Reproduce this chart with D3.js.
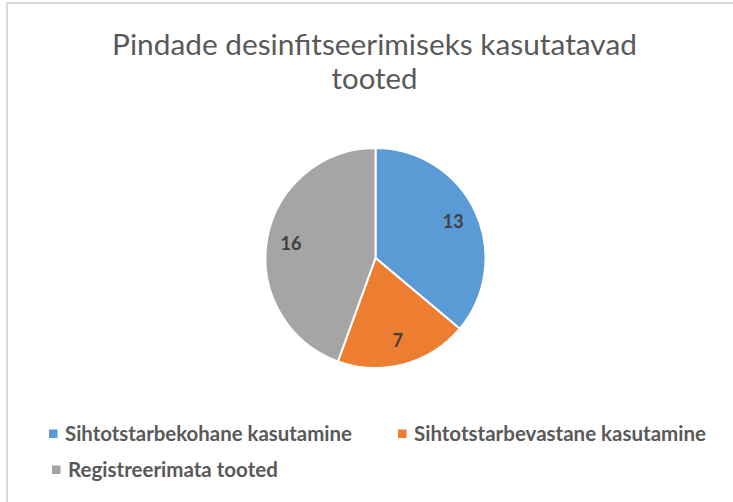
<!DOCTYPE html>
<html>
<head>
<meta charset="utf-8">
<script src="https://cdn.jsdelivr.net/npm/d3@7"></script>
<style>
  html, body { margin: 0; padding: 0; background: #fff; }
  svg { display: block; }
  text { font-family: Lato, "Open Sans", sans-serif; }
</style>
</head>
<body>
<svg id="chart" width="733" height="502"></svg>
<script>
// Data
const categories = ['Sihtotstarbekohane kasutamine', 'Sihtotstarbevastane kasutamine', 'Registreerimata tooted'];
const values = [13, 7, 16];
const colors = ['#5b9bd5', '#ed7d31', '#a5a5a5'];
const titleLines = ['Pindade desinfitseerimiseks kasutatavad', 'tooted'];

const W = 733, H = 502;
const CX = 375.5, CY = 258, R = 110;

const svg = d3.select('#chart');

// chart frame (only top and left edges are visible in the crop)
svg.append('rect')
    .attr('x', 7).attr('y', 3)
    .attr('width', W + 20).attr('height', H + 20)
    .attr('fill', '#fff')
    .attr('stroke', '#d9d9d9')
    .attr('stroke-width', 2);

// fit a text element to a target width
function fitWidth(sel, target, size) {
    sel.attr('font-size', size);
    const w = sel.node().getComputedTextLength();
    sel.attr('font-size', size * target / w);
}

// title
const titleY = [55, 89];
titleLines.forEach((t, i) => {
    const el = svg.append('text')
        .attr('x', 374.5)
        .attr('y', titleY[i])
        .attr('text-anchor', 'middle')
        .attr('fill', '#595959')
        .text(t);
    fitWidth(el, i === 0 ? 525 : 86, 26);
});

// pie
const pie = d3.pie().sort(null).value(d => d.value);
const arcs = pie(values.map((v, i) => ({ value: v, name: categories[i], color: colors[i] })));
const arc = d3.arc().innerRadius(0).outerRadius(R);
const labelArc = d3.arc().innerRadius(R * 0.78).outerRadius(R * 0.78);

const g = svg.append('g').attr('transform', `translate(${CX},${CY})`);

g.selectAll('path.slice')
    .data(arcs)
    .join('path')
    .attr('class', 'slice')
    .attr('d', arc)
    .attr('fill', d => d.data.color)
    .attr('stroke', '#fff')
    .attr('stroke-width', 2);

g.selectAll('text.lbl')
    .data(arcs)
    .join('text')
    .attr('class', 'lbl')
    .attr('transform', d => `translate(${labelArc.centroid(d)})`)
    .attr('dy', '0.36em')
    .attr('text-anchor', 'middle')
    .attr('font-size', 18)
    .attr('font-weight', 'bold')
    .attr('fill', '#404040')
    .text(d => d.data.value);

// legend
const legendPos = [
    { x: 49, y: 434, w: 287 },
    { x: 398, y: 434, w: 292 },
    { x: 52, y: 470, w: 210 }
];
const legend = svg.append('g');
arcs.forEach((d, i) => {
    const p = legendPos[i];
    legend.append('rect')
        .attr('x', p.x).attr('y', p.y - 4.5)
        .attr('width', 8.5).attr('height', 8.5)
        .attr('fill', d.data.color);
    const t = legend.append('text')
        .attr('x', p.x + 16)
        .attr('y', p.y)
        .attr('dy', '0.35em')
        .attr('font-weight', 'bold')
        .attr('fill', '#595959')
        .text(d.data.name);
    fitWidth(t, p.w, 18);
});
</script>
</body>
</html>
